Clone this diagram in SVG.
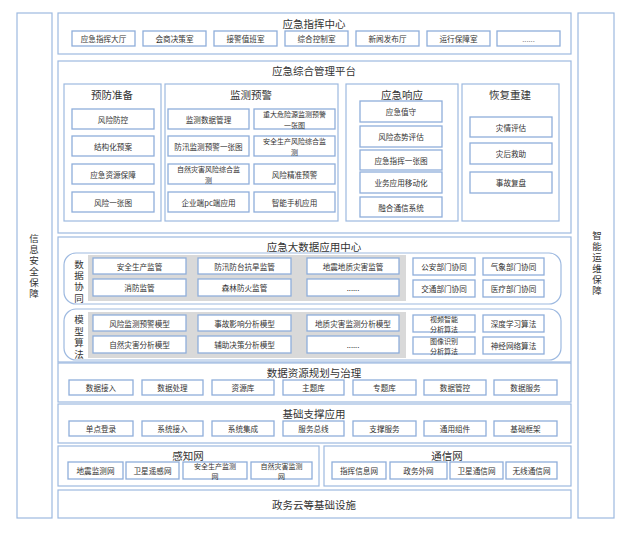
<svg xmlns="http://www.w3.org/2000/svg" width="641" height="533" viewBox="0 0 641 533">
<style>
.fr{fill:#fff;stroke:#9DB9E0;stroke-width:1.2}
.it{fill:#fff;stroke:#8FAEDB;stroke-width:1.3}
.gr{fill:#D9D9D9;stroke:none}
text{font-family:"Noto Sans CJK SC","Noto Sans",sans-serif;fill:#333;text-anchor:middle;dominant-baseline:central}
.h1{font-size:10.5px}
.h2{font-size:10.5px}
.s{font-size:7.6px}
.s2{font-size:7px}
.v{font-size:9.5px;writing-mode:vertical-rl;letter-spacing:1.5px}
</style>
<rect width="641" height="533" fill="#fff"/>

<g id="info-security">
<rect class="fr" x="17" y="13" width="35" height="505"/>
<text class="v" x="34" y="267">信息安全保障</text>
</g>
<g id="smart-ops">
<rect class="fr" x="578" y="13" width="36" height="505"/>
<text class="v" x="597" y="264">智能运维保障</text>
</g>

<g id="command-center">
<rect class="fr" x="58" y="13" width="513" height="41"/>
<text class="h1" x="314" y="23">应急指挥中心</text>
<rect class="it" x="72" y="31" width="63" height="15"/><text class="s" x="103.5" y="38.5">应急指挥大厅</text>
<rect class="it" x="143" y="31" width="63" height="15"/><text class="s" x="174.5" y="38.5">会商决策室</text>
<rect class="it" x="214" y="31" width="63" height="15"/><text class="s" x="245.5" y="38.5">接警值班室</text>
<rect class="it" x="285" y="31" width="63" height="15"/><text class="s" x="316.5" y="38.5">综合控制室</text>
<rect class="it" x="356" y="31" width="63" height="15"/><text class="s" x="387.5" y="38.5">新闻发布厅</text>
<rect class="it" x="427" y="31" width="63" height="15"/><text class="s" x="458.5" y="38.5">运行保障室</text>
<rect class="it" x="497" y="31" width="63" height="15"/><text class="s" x="528.5" y="38.5" style="fill:#888">......</text>
</g>

<g id="mgmt-platform">
<rect class="fr" x="58" y="61" width="513" height="172"/>
<text class="h1" x="314" y="70">应急综合管理平台</text>
</g>
<g id="prevention">
<rect class="fr" x="64" y="84" width="97" height="137"/>
<text class="h2" x="112" y="94">预防准备</text>
<rect class="it" x="72" y="109" width="82" height="20"/><text class="s" x="113" y="119">风险防控</text>
<rect class="it" x="72" y="136" width="82" height="20"/><text class="s" x="113" y="146">结构化预案</text>
<rect class="it" x="72" y="164" width="82" height="20"/><text class="s" x="113" y="174">应急资源保障</text>
<rect class="it" x="72" y="192" width="82" height="20"/><text class="s" x="113" y="202">风险一张图</text>
</g>
<g id="monitoring">
<rect class="fr" x="165" y="84" width="173" height="137"/>
<text class="h2" x="251" y="94">监测预警</text>
<rect class="it" x="168" y="109" width="81" height="20"/><text class="s" x="208.5" y="119">监测数据管理</text>
<rect class="it" x="254" y="109" width="81" height="20"/><text class="s2" x="294.5" y="114">重大危险源监测预警</text><text class="s2" x="294.5" y="124.5">一张图</text>
<rect class="it" x="168" y="136" width="81" height="20"/><text class="s" x="208.5" y="146">防汛监测预警一张图</text>
<rect class="it" x="254" y="136" width="81" height="20"/><text class="s2" x="294.5" y="141">安全生产风险综合监</text><text class="s2" x="294.5" y="151.5">测</text>
<rect class="it" x="168" y="164" width="81" height="20"/><text class="s2" x="208.5" y="169">自然灾害风险综合监</text><text class="s2" x="208.5" y="179.5">测</text>
<rect class="it" x="254" y="164" width="81" height="20"/><text class="s" x="294.5" y="174">风险精准预警</text>
<rect class="it" x="168" y="192" width="81" height="20"/><text class="s" x="208.5" y="202">企业端pc端应用</text>
<rect class="it" x="254" y="192" width="81" height="20"/><text class="s" x="294.5" y="202">智能手机应用</text>
</g>
<g id="response">
<rect class="fr" x="346" y="84" width="112" height="137"/>
<text class="h2" x="402" y="94">应急响应</text>
<rect class="it" x="360" y="101" width="82" height="21"/><text class="s" x="401" y="111.5">应急值守</text>
<rect class="it" x="360" y="126" width="82" height="21"/><text class="s" x="401" y="136.5">风险态势评估</text>
<rect class="it" x="360" y="150" width="82" height="20"/><text class="s" x="401" y="160">应急指挥一张图</text>
<rect class="it" x="360" y="172" width="82" height="21"/><text class="s" x="401" y="182.5">业务应用移动化</text>
<rect class="it" x="360" y="197" width="82" height="20"/><text class="s" x="401" y="207">融合通信系统</text>
</g>
<g id="recovery">
<rect class="fr" x="462" y="84" width="97" height="137"/>
<text class="h2" x="510" y="94">恢复重建</text>
<rect class="it" x="470" y="117" width="82" height="20"/><text class="s" x="511" y="127">灾情评估</text>
<rect class="it" x="470" y="143" width="82" height="21"/><text class="s" x="511" y="153.5">灾后救助</text>
<rect class="it" x="470" y="172" width="82" height="21"/><text class="s" x="511" y="182.5">事故复盘</text>
</g>

<g id="bigdata-center">
<rect class="fr" x="58" y="237" width="513" height="125"/>
<text class="h1" x="314" y="246">应急大数据应用中心</text>
</g>
<g id="data-collab">
<rect class="fr" x="64" y="253" width="497" height="51" rx="12"/>
<rect class="gr" x="88" y="255" width="318" height="46"/>
<text class="v" x="79" y="282" style="letter-spacing:1.8px">数据协同</text>
<rect class="it" x="93" y="258" width="93" height="16"/><text class="s" x="139.5" y="266">安全生产监管</text>
<rect class="it" x="198" y="258" width="93" height="16"/><text class="s" x="244.5" y="266">防汛防台抗旱监管</text>
<rect class="it" x="307" y="258" width="92" height="16"/><text class="s" x="353" y="266">地震地质灾害监管</text>
<rect class="it" x="93" y="279" width="93" height="17"/><text class="s" x="139.5" y="287.5">消防监管</text>
<rect class="it" x="198" y="279" width="93" height="17"/><text class="s" x="244.5" y="287.5">森林防火监管</text>
<rect class="it" x="307" y="279" width="92" height="17"/><text class="s" x="353" y="287.5">......</text>
<rect class="it" x="413" y="258" width="62" height="17"/><text class="s" x="444" y="266.5">公安部门协同</text>
<rect class="it" x="483" y="258" width="61" height="17"/><text class="s" x="513.5" y="266.5">气象部门协同</text>
<rect class="it" x="413" y="280" width="62" height="17"/><text class="s" x="444" y="288.5">交通部门协同</text>
<rect class="it" x="483" y="280" width="61" height="17"/><text class="s" x="513.5" y="288.5">医疗部门协同</text>
</g>
<g id="model-algo">
<rect class="fr" x="64" y="309" width="497" height="51" rx="12"/>
<rect class="gr" x="88" y="312" width="318" height="46"/>
<text class="v" x="79" y="338" style="letter-spacing:2px">模型算法</text>
<rect class="it" x="93" y="315" width="93" height="16"/><text class="s" x="139.5" y="323">风险监测预警模型</text>
<rect class="it" x="198" y="315" width="93" height="16"/><text class="s" x="244.5" y="323">事故影响分析模型</text>
<rect class="it" x="307" y="315" width="92" height="16"/><text class="s" x="353" y="323">地质灾害监测分析模型</text>
<rect class="it" x="93" y="336" width="93" height="17"/><text class="s" x="139.5" y="344.5">自然灾害分析模型</text>
<rect class="it" x="198" y="336" width="93" height="17"/><text class="s" x="244.5" y="344.5">辅助决策分析模型</text>
<rect class="it" x="307" y="336" width="92" height="17"/><text class="s" x="353" y="344.5">......</text>
<rect class="it" x="413" y="315" width="62" height="17"/><text class="s2" x="444" y="318.5">视频智能</text><text class="s2" x="444" y="328.5">分析算法</text>
<rect class="it" x="483" y="315" width="61" height="17"/><text class="s" x="513.5" y="323.5">深度学习算法</text>
<rect class="it" x="413" y="337" width="62" height="17"/><text class="s2" x="444" y="340.5">图像识别</text><text class="s2" x="444" y="350.5">分析算法</text>
<rect class="it" x="483" y="337" width="61" height="17"/><text class="s" x="513.5" y="345.5">神经网络算法</text>
</g>

<g id="data-governance">
<rect class="fr" x="58" y="363" width="513" height="39"/>
<text class="h1" x="314" y="372">数据资源规划与治理</text>
<rect class="it" x="69" y="380" width="64" height="15"/><text class="s" x="101" y="387.5">数据接入</text>
<rect class="it" x="142" y="380" width="61" height="15"/><text class="s" x="172.5" y="387.5">数据处理</text>
<rect class="it" x="212" y="380" width="62" height="15"/><text class="s" x="243" y="387.5">资源库</text>
<rect class="it" x="283" y="380" width="61" height="15"/><text class="s" x="313.5" y="387.5">主题库</text>
<rect class="it" x="353" y="380" width="63" height="15"/><text class="s" x="384.5" y="387.5">专题库</text>
<rect class="it" x="424" y="380" width="62" height="15"/><text class="s" x="455" y="387.5">数据管控</text>
<rect class="it" x="494" y="380" width="63" height="15"/><text class="s" x="525.5" y="387.5">数据服务</text>
</g>

<g id="base-support">
<rect class="fr" x="58" y="404" width="513" height="39"/>
<text class="h1" x="314" y="413">基础支撑应用</text>
<rect class="it" x="69" y="421" width="64" height="15"/><text class="s" x="101" y="428.5">单点登录</text>
<rect class="it" x="142" y="421" width="61" height="15"/><text class="s" x="172.5" y="428.5">系统接入</text>
<rect class="it" x="212" y="421" width="62" height="15"/><text class="s" x="243" y="428.5">系统集成</text>
<rect class="it" x="283" y="421" width="61" height="15"/><text class="s" x="313.5" y="428.5">服务总线</text>
<rect class="it" x="353" y="421" width="63" height="15"/><text class="s" x="384.5" y="428.5">支撑服务</text>
<rect class="it" x="424" y="421" width="62" height="15"/><text class="s" x="455" y="428.5">通用组件</text>
<rect class="it" x="494" y="421" width="63" height="15"/><text class="s" x="525.5" y="428.5">基础框架</text>
</g>

<g id="sensing-net">
<rect class="fr" x="58" y="446" width="261" height="40"/>
<text class="h1" x="188" y="455">感知网</text>
<rect class="it" x="68" y="462" width="55" height="17"/><text class="s" x="95.5" y="470.5">地震监测网</text>
<rect class="it" x="126" y="462" width="53" height="17"/><text class="s" x="152.5" y="470.5">卫星遥感网</text>
<rect class="it" x="183" y="462" width="64" height="17"/><text class="s2" x="215" y="465.5">安全生产监测</text><text class="s2" x="215" y="475.5">网</text>
<rect class="it" x="251" y="462" width="61" height="17"/><text class="s2" x="281.5" y="465.5">自然灾害监测</text><text class="s2" x="281.5" y="475.5">网</text>
</g>

<g id="comm-net">
<rect class="fr" x="324" y="446" width="247" height="40"/>
<text class="h1" x="447" y="455">通信网</text>
<rect class="it" x="332" y="462" width="54" height="17"/><text class="s" x="359" y="470.5">指挥信息网</text>
<rect class="it" x="390" y="462" width="57" height="17"/><text class="s" x="418.5" y="470.5">政务外网</text>
<rect class="it" x="450" y="462" width="53" height="17"/><text class="s" x="476.5" y="470.5">卫星通信网</text>
<rect class="it" x="506" y="462" width="51" height="17"/><text class="s" x="531.5" y="470.5">无线通信网</text>
</g>

<g id="cloud-infra">
<rect class="fr" x="58" y="490" width="513" height="28"/>
<text class="h1" x="314" y="504">政务云等基础设施</text>
</g>
</svg>
